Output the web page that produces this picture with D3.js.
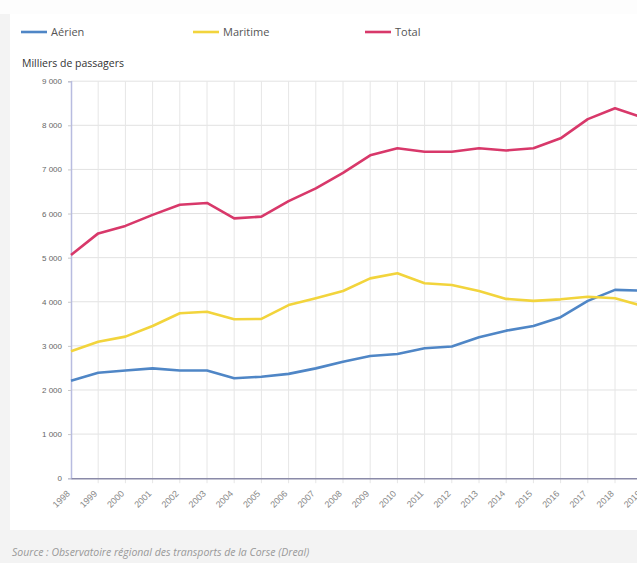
<!DOCTYPE html>
<html><head><meta charset="utf-8">
<script src="https://cdn.jsdelivr.net/npm/d3@7"></script>
<style>
html,body{margin:0;padding:0;background:#f3f3f3;}
svg{display:block;font-family:"Open Sans",sans-serif;}
</style></head><body>
<svg id="c" width="637" height="563"></svg>
<script>
const years = [1998,1999,2000,2001,2002,2003,2004,2005,2006,2007,2008,2009,2010,2011,2012,2013,2014,2015,2016,2017,2018,2019];
const aerien = [2210,2390,2440,2490,2440,2440,2265,2300,2365,2490,2640,2770,2815,2945,2985,3195,3345,3450,3650,4020,4270,4250];
const maritime = [2880,3095,3210,3450,3740,3775,3605,3610,3925,4080,4245,4530,4645,4420,4380,4245,4065,4020,4055,4115,4080,3910];
const total = [5060,5550,5720,5970,6200,6240,5890,5930,6280,6570,6920,7320,7480,7400,7400,7480,7430,7480,7705,8140,8385,8180];
const yTicks = [0,1000,2000,3000,4000,5000,6000,7000,8000,9000];
const seriesNames = ["Aérien","Maritime","Total"];
const seriesColors = ["#4f86c6","#f2d43c","#d8386a"];

const svg = d3.select("#c");
svg.append("rect").attr("x",0).attr("y",0).attr("width",637).attr("height",14).attr("fill","#fdfdfd");
svg.append("rect").attr("x",10).attr("y",14).attr("width",627).attr("height",516).attr("fill","#ffffff");

const x = d3.scalePoint().domain(years).range([71, 642.2]);
const y = d3.scaleLinear().domain([0,9000]).range([478.2, 81.2]);
const fmt = v => d3.format(",")(v).replace(/,/g, " ");

// horizontal grid
svg.append("g").selectAll("line").data(yTicks.filter(d=>d>0)).join("line")
  .attr("x1",71).attr("x2",637).attr("y1",d=>y(d)).attr("y2",d=>y(d))
  .attr("stroke","#e2e2e2").attr("stroke-width",1);
// vertical grid
svg.append("g").selectAll("line").data(years.slice(1)).join("line")
  .attr("x1",d=>x(d)).attr("x2",d=>x(d)).attr("y1",y(9000)).attr("y2",y(0)+5)
  .attr("stroke","#e6e6e6").attr("stroke-width",1);

// y axis
const yAxis = d3.axisLeft(y).tickValues(yTicks).tickFormat(fmt).tickSize(3).tickPadding(6);
const gy = svg.append("g").attr("transform","translate(71,0)").call(yAxis);
gy.select(".domain").attr("stroke","#b8bce0").attr("stroke-width",1.5);
gy.selectAll(".tick line").attr("stroke","#c8c8c8");
gy.selectAll("text").attr("fill","#666").style("font-size","8px");

// x axis
const xAxis = d3.axisBottom(x).tickSize(0).tickPadding(0);
const gx = svg.append("g").attr("transform",`translate(0,${y(0)})`).call(xAxis);
gx.select(".domain").attr("stroke","#8a8aa8").attr("stroke-width",1.5);
gx.selectAll("text").attr("fill","#888").style("font-size","9px")
  .attr("text-anchor","end").attr("dy",0)
  .attr("transform","translate(-1,16) rotate(-45)");

// lines
const line = d3.line().x((d,i)=>x(years[i])).y(d=>y(d));
[aerien, maritime, total].forEach((s,k)=>{
  svg.append("path").datum(s).attr("d",line).attr("fill","none")
    .attr("stroke",seriesColors[k]).attr("stroke-width",2.6).attr("stroke-linejoin","round");
});

// legend
const legX = [21, 193, 365];
seriesNames.forEach((n,k)=>{
  svg.append("line").attr("x1",legX[k]).attr("x2",legX[k]+26).attr("y1",32).attr("y2",32)
    .attr("stroke",seriesColors[k]).attr("stroke-width",2.6);
  svg.append("text").attr("x",legX[k]+30).attr("y",36).text(n)
    .attr("fill","#555").style("font-size","11px");
});

svg.append("text").attr("x",22).attr("y",67).text("Milliers de passagers")
  .attr("fill","#333").style("font-size","10.5px");

svg.append("text").attr("x",12).attr("y",556)
  .text("Source : Observatoire régional des transports de la Corse (Dreal)")
  .attr("fill","#999").style("font-size","10.5px").style("font-style","italic");
</script>
</body></html>
